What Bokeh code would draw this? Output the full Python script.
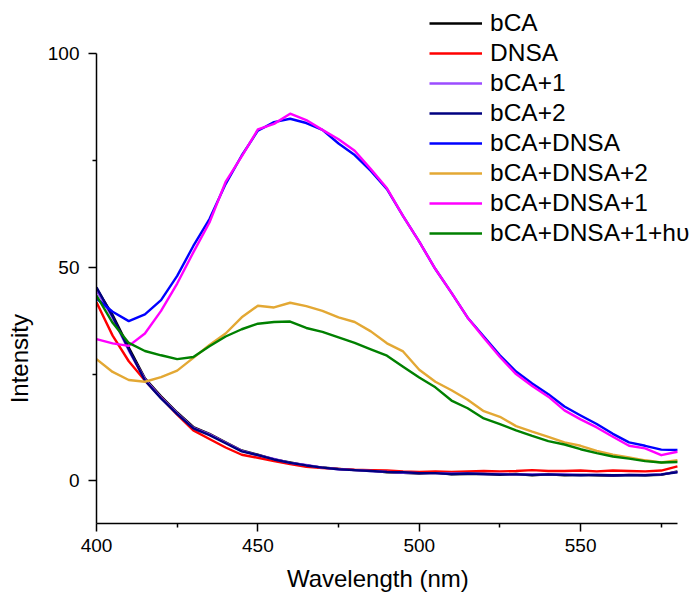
from bokeh.plotting import figure
from bokeh.models import FixedTicker, Legend, LegendItem, Range1d
from bokeh.embed import file_html
from bokeh.resources import INLINE

wavelength = [400, 405, 410, 415, 420, 425, 430, 435, 440, 445, 450, 455, 460,
              465, 470, 475, 480, 485, 490, 495, 500, 505, 510, 515, 520, 525,
              530, 535, 540, 545, 550, 555, 560, 565, 570, 575, 580]

bCA = [45.0, 38.8, 31.2, 24.0, 19.8, 16.0, 12.6, 11.0, 9.0, 7.1, 6.1, 5.0, 4.3,
       3.6, 3.1, 2.8, 2.5, 2.4, 2.0, 1.9, 1.7, 1.9, 1.5, 1.6, 1.6, 1.4,
       1.6, 1.3, 1.5, 1.3, 1.4, 1.3, 1.2, 1.4, 1.3, 1.4, 2.2]
DNSA = [41.8, 34.0, 28.0, 23.5, 19.5, 15.5, 11.8, 9.8, 7.8, 6.1, 5.4, 4.6, 3.9,
        3.3, 3.0, 2.8, 2.6, 2.5, 2.4, 2.2, 2.1, 2.2, 2.1, 2.2, 2.3, 2.2,
        2.3, 2.5, 2.3, 2.3, 2.4, 2.2, 2.4, 2.3, 2.2, 2.4, 3.4]
bCA_1 = [44.6, 38.2, 30.5, 23.8, 19.5, 15.8, 12.4, 10.9, 8.9, 7.0, 6.0, 5.1, 4.2,
         3.7, 3.1, 2.7, 2.5, 2.3, 2.1, 1.9, 1.8, 1.8, 1.7, 1.7, 1.6, 1.6,
         1.5, 1.5, 1.5, 1.5, 1.4, 1.4, 1.3, 1.4, 1.4, 1.5, 2.1]
bCA_2 = [45.3, 38.5, 30.8, 23.5, 19.3, 15.6, 12.3, 10.7, 8.8, 6.9, 6.0, 5.0, 4.2,
         3.6, 3.1, 2.7, 2.5, 2.3, 2.1, 2.0, 1.8, 1.8, 1.6, 1.7, 1.6, 1.5,
         1.5, 1.4, 1.5, 1.4, 1.3, 1.4, 1.3, 1.3, 1.3, 1.5, 2.0]
bCA_DNSA = [42.7, 39.6, 37.4, 39.0, 42.3, 48.0, 55.0, 61.3, 69.5, 76.2, 82.0, 84.0, 84.8,
            83.8, 82.2, 79.0, 76.3, 72.6, 68.3, 62.0, 56.0, 49.6, 44.0, 38.2, 33.8, 29.4,
            25.6, 22.8, 20.3, 17.4, 15.3, 13.3, 11.0, 9.0, 8.2, 7.3, 7.2]
bCA_DNSA_2 = [28.5, 25.5, 23.6, 23.2, 24.3, 25.8, 28.8, 31.8, 34.5, 38.3, 41.0, 40.6, 41.7,
              40.9, 39.8, 38.3, 37.2, 35.0, 32.2, 30.3, 26.0, 23.2, 21.2, 19.0, 16.3, 15.0,
              12.8, 11.5, 10.3, 9.0, 8.2, 7.0, 6.1, 5.5, 4.8, 4.3, 4.8]
bCA_DNSA_1 = [33.2, 32.2, 31.6, 34.5, 39.8, 46.2, 53.5, 60.5, 70.0, 76.0, 82.3, 83.6, 86.0,
              84.5, 82.2, 80.0, 77.3, 73.0, 68.5, 62.0, 56.0, 49.6, 44.0, 38.2, 33.5, 29.0,
              25.0, 22.2, 19.7, 16.5, 14.4, 12.5, 10.3, 8.2, 7.6, 6.0, 6.8]
bCA_DNSA_1_hv = [43.4, 37.0, 32.3, 30.4, 29.4, 28.5, 29.0, 31.5, 33.8, 35.5, 36.8, 37.2, 37.3,
                 35.8, 34.9, 33.6, 32.3, 30.8, 29.3, 26.7, 24.2, 21.9, 18.8, 17.0, 14.6, 13.3,
                 11.8, 10.5, 9.3, 8.5, 7.4, 6.5, 5.7, 5.2, 4.6, 4.3, 4.4]

series_names = ["bCA", "DNSA", "bCA+1", "bCA+2", "bCA+DNSA", "bCA+DNSA+2",
                "bCA+DNSA+1", "bCA+DNSA+1+h\u03c5"]
series_values = [bCA, DNSA, bCA_1, bCA_2, bCA_DNSA, bCA_DNSA_2, bCA_DNSA_1, bCA_DNSA_1_hv]
series_colors = ["#000000", "#FF0000", "#9B4DFF", "#000080", "#0000FF", "#E3A834",
                 "#FF00FF", "#008000"]

x_major = [400, 450, 500, 550]
x_minor = [425, 475, 525, 575]
y_major = [0, 50, 100]
y_minor = [25, 75]
x_axis_span = (400, 580)
y_axis_span = (-10, 100)

FONT = "Liberation Sans"
NBSP = "\u00a0"

# frame fills the canvas to the top and right so the legend is not clipped;
# the axes themselves only span the reference's ranges
p = figure(width=692, height=597, output_backend="svg", toolbar_location=None,
           title_location=None,
           x_range=Range1d(400, 584.67), y_range=Range1d(-10, 112.5),
           min_border_left=96, min_border_right=0, min_border_top=0,
           min_border_bottom=74)
p.outline_line_color = None
p.grid.visible = False
p.background_fill_color = "white"
p.border_fill_color = "white"

items = []
for name, vals, col in zip(series_names, series_values, series_colors):
    r = p.line(wavelength, vals, line_color=col, line_width=2.4,
               line_join="round")
    items.append(LegendItem(label=name, renderers=[r]))

for ax in (p.xaxis[0], p.yaxis[0]):
    ax.axis_line_width = 1.5
    ax.axis_line_color = "black"
    ax.major_tick_out = 8
    ax.major_tick_in = 0
    ax.minor_tick_out = 4
    ax.minor_tick_in = 0
    ax.major_tick_line_width = 1.5
    ax.minor_tick_line_width = 1.5
    ax.major_label_text_font = FONT
    ax.major_label_text_font_size = "19px"
    ax.major_label_text_color = "black"
    ax.axis_label_text_font = FONT
    ax.axis_label_text_font_size = "24px"
    ax.axis_label_text_font_style = "normal"
    ax.axis_label_text_color = "black"

p.xaxis.bounds = x_axis_span
p.yaxis.bounds = y_axis_span
p.xaxis.ticker = FixedTicker(ticks=x_major, minor_ticks=x_minor)
p.yaxis.ticker = FixedTicker(ticks=y_major, minor_ticks=y_minor)
# trailing no-break spaces shift the centred label towards its start
p.xaxis.axis_label = "Wavelength (nm)" + NBSP * 5
p.yaxis.axis_label = "Intensity" + NBSP * 29
p.xaxis.major_label_standoff = 7
p.yaxis.major_label_standoff = 9
p.xaxis.axis_label_standoff = 10
p.yaxis.axis_label_standoff = 12

legend = Legend(items=items, location=(333, 275), border_line_color=None,
                background_fill_alpha=0, padding=0, margin=0, spacing=0,
                glyph_width=53, glyph_height=30, label_height=30,
                label_standoff=8, label_text_font=FONT,
                label_text_font_size="24.5px", label_text_color="black")
p.add_layout(legend)

open("out.html", "w").write(file_html(p, INLINE))
